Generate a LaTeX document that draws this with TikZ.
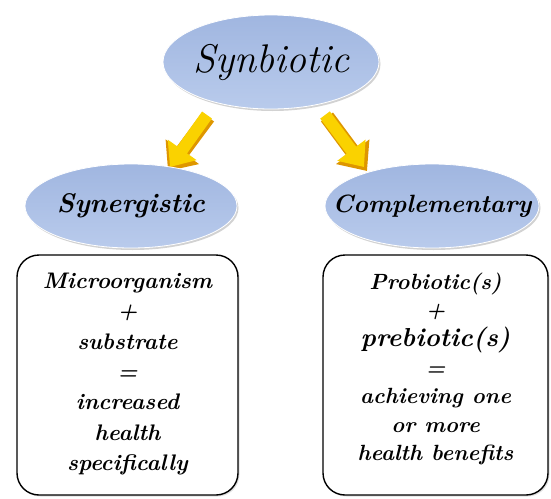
\documentclass[tikz,border=0pt]{standalone}
\usetikzlibrary{shapes.geometric,arrows.meta,shadows}
\definecolor{ellTop}{RGB}{160,182,224}
\definecolor{ellBot}{RGB}{185,203,236}
\definecolor{arrFront}{RGB}{250,210,0}
\definecolor{arrSide}{RGB}{222,150,0}
\begin{document}
\begin{tikzpicture}[x=1pt,y=-1pt,
  bubble/.style={ellipse, inner sep=0pt, top color=ellTop, bottom color=ellBot,
     draw=white, line width=0.8pt,
     drop shadow={opacity=0.35, shadow xshift=1.5pt, shadow yshift=-2pt}},
  infobox/.style={rectangle, rounded corners=22pt, draw=black, line width=1.4pt,
     fill=white, inner sep=0pt,
     drop shadow={opacity=0.25, shadow xshift=1.5pt, shadow yshift=-1.5pt}},
  boxtext/.style={align=center, inner sep=0pt},
  bubbletext/.style={inner sep=0pt},
  goldside/.style={draw=arrSide, line width=15pt,
     -{Triangle[width=40pt,length=24pt]}},
  goldfront/.style={draw=arrFront, line width=12pt,
     -{Triangle[width=34pt,length=21pt]}}
]
\useasboundingbox (0,0) rectangle (551,498);
\fill[white] (0,0) rectangle (551,498);

% arrows
\coordinate (l1) at (208,117);
\coordinate (l2) at (168,171);
\coordinate (r1) at (327,117);
\coordinate (r2) at (367,171);
\draw[goldside] (l1) -- (l2);
\draw[goldfront] ([shift={(-1,-2)}]l1) -- ([shift={(2,-4)}]l2);
\draw[goldside] (r1) -- (r2);
\draw[goldfront] ([shift={(-2,-2)}]r1) -- ([shift={(-3,-4)}]r2);

% ellipses
\node[bubble, minimum width=216pt, minimum height=94pt] (top) at (271,62) {};
\node[bubbletext, font=\fontsize{40}{44}\selectfont\itshape] (toptext) at (top.center) {Synbiotic};
\node[bubble, minimum width=212pt, minimum height=84pt] (syn) at (131,206) {};
\node[bubbletext, font=\fontsize{27}{32}\selectfont\itshape\bfseries] (syntext) at (syn.center) {Synergistic};
\node[bubble, minimum width=214pt, minimum height=84pt] (comp) at (432,206) {};
\node[bubbletext, font=\fontsize{25}{30}\selectfont\itshape\bfseries] (comptext) at (comp.center) {Complementary};

% boxes
\node[infobox, minimum width=221pt, minimum height=240pt] (lbox) at (127.5,375) {};
\node[boxtext, font=\fontsize{22.5}{30.3}\selectfont\itshape\bfseries] (ltext)
  at ([yshift=1pt]lbox.center)
  {Microorganism\\ +\\ substrate\\ =\\ increased\\ health\\ specifically};
\node[infobox, minimum width=225pt, minimum height=240pt] (rbox) at (435.5,375) {};
\node[boxtext, font=\fontsize{22}{28.6}\selectfont\itshape\bfseries] (rtext)
  at ([yshift=6pt]rbox.center)
  {Probiotic(s)\\ +\\ {\fontsize{26}{28.6}\selectfont prebiotic(s)}\\ =\\ achieving one\\ or more\\ health benefits};
\end{tikzpicture}
\end{document}
